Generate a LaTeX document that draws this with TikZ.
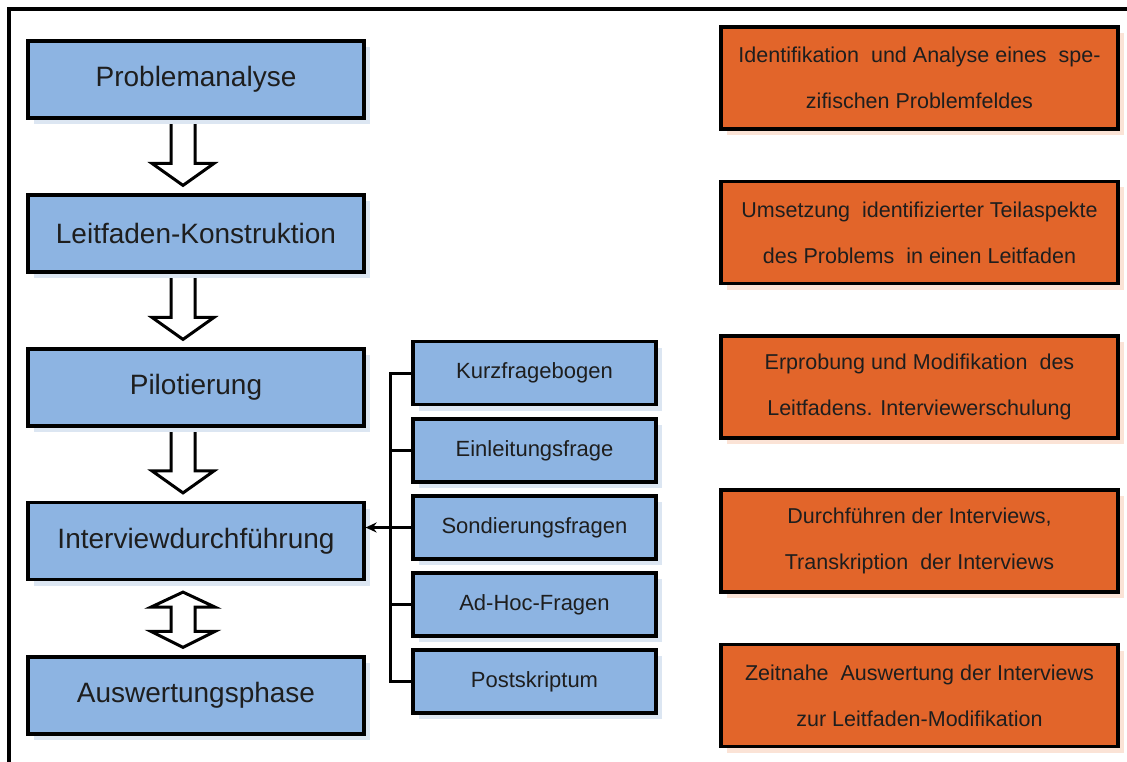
\documentclass[tikz,border=0pt]{standalone}
\usepackage{fontspec}
\setmainfont{Liberation Sans}
\usetikzlibrary{calc,shadows,backgrounds,arrows.meta}

\definecolor{boxblue}{HTML}{8DB4E2}
\definecolor{shadeblue}{HTML}{DCE6F2}
\definecolor{boxorange}{HTML}{E2652A}
\definecolor{shadeorange}{HTML}{FBE3D6}
\definecolor{ink}{HTML}{1E1E1E}

\tikzset{
  phase/.style={draw=black, line width=3.2pt, fill=boxblue, inner sep=0pt,
    minimum width=336pt, minimum height=77pt, text=ink,
    font=\fontsize{28}{32}\selectfont,
    drop shadow={shadow xshift=6pt, shadow yshift=-6pt, fill=shadeblue, opacity=1}},
  part/.style={draw=black, line width=3.2pt, fill=boxblue, inner sep=0pt,
    minimum width=243pt, minimum height=63pt, text=ink,
    font=\fontsize{22}{26}\selectfont,
    drop shadow={shadow xshift=6pt, shadow yshift=-6pt, fill=shadeblue, opacity=1}},
  note/.style={draw=black, line width=3.2pt, fill=boxorange, inner sep=0pt,
    minimum width=397pt, minimum height=102pt, text=ink, align=center,
    font=\fontsize{21.5}{46}\selectfont,
    drop shadow={shadow xshift=6pt, shadow yshift=-6pt, fill=shadeorange, opacity=1}},
  blockarrow/.style={draw=black, fill=white, line width=3pt, line join=miter},
  frameline/.style={draw=black, line width=3.2pt},
  bracket/.style={draw=black, line width=3pt}
}

% hollow block arrow from the bottom of #1 down to the top of #2
\newcommand\downblock[2]{%
  \path[blockarrow] ($(#1.south)+(-25,0)$) -- ($(#2.north)+(-25,-30)$)
    -- ($(#2.north)+(-44,-30)$) -- ($(#2.north)+(-13,-8)$)
    -- ($(#2.north)+(18,-30)$) -- ($(#2.north)+(-1,-30)$)
    -- ($(#1.south)+(-1,0)$);}

\begin{document}
\begin{tikzpicture}[x=1pt, y=-1pt]
  \useasboundingbox (0,0) rectangle (1127,762);

  % outer frame (top and left edges)
  \path[frameline] (1127,9) -- (9,9) -- (9,762);

  % phases of the interview process
  \node[phase] (pa) at (196,79.5)  {Problemanalyse};
  \node[phase] (lk) at (196,233.5) {Leitfaden-Konstruktion};
  \node[phase] (pi) at (196,387.5) {Pilotierung};
  \node[phase] (id) at (196,541)   {Interviewdurchführung};
  \node[phase] (aw) at (196,695.5) {Auswertungsphase};

  % parts of the interview guide
  \node[part] (kf) at (534.5,373)   {\raisebox{5pt}{Kurzfragebogen}};
  \node[part] (ef) at (534.5,450.5) {\raisebox{4pt}{Einleitungsfrage}};
  \node[part] (sf) at (534.5,527.5) {\raisebox{4pt}{Sondierungsfragen}};
  \node[part] (ah) at (534.5,604.5) {\raisebox{4pt}{Ad-Hoc-Fragen}};
  \node[part] (ps) at (534.5,681.5) {\raisebox{4pt}{Postskriptum}};

  % descriptions
  \node[note] (n1) at (919.5,78)    {Identifikation \ und Analyse eines \ spe-\\zifischen Problemfeldes};
  \node[note] (n2) at (919.5,232.5) {Umsetzung \ identifizierter Teilaspekte\\des Problems \ in einen Leitfaden};
  \node[note] (n3) at (919.5,387)   {Erprobung und Modifikation \ des\\Leitfadens. Interviewerschulung};
  \node[note] (n4) at (919.5,541)   {Durchführen der Interviews,\\Transkription \ der Interviews};
  \node[note] (n5) at (919.5,695.5) {Zeitnahe \ Auswertung der Interviews\\zur Leitfaden-Modifikation};

  \begin{pgfonlayer}{background}
    \downblock{pa}{lk}
    \downblock{lk}{pi}
    \downblock{pi}{id}
    % two-way block arrow between execution and evaluation
    \path[blockarrow] ($(id.south)+(-13,11)$) -- ($(id.south)+(19,26)$)
      -- ($(id.south)+(-1,26)$) -- ($(aw.north)+(-1,-24)$)
      -- ($(aw.north)+(19,-24)$) -- ($(aw.north)+(-13,-8)$)
      -- ($(aw.north)+(-45,-24)$) -- ($(aw.north)+(-25,-24)$)
      -- ($(id.south)+(-25,26)$) -- ($(id.south)+(-45,26)$) -- cycle;
  \end{pgfonlayer}

  % bracket collecting the guide parts
  \coordinate (bus) at (390,0);
  \path[bracket] (kf.west) -- (kf.west -| bus) -- (ps.west -| bus) -- (ps.west);
  \path[bracket] (ef.west) -- (ef.west -| bus);
  \path[bracket] (ah.west) -- (ah.west -| bus);
  \path[bracket] (sf.west) -- (sf.west -| bus);
  \path[bracket, -{Stealth[length=11pt, width=10pt]}] (sf.west -| bus) -- (sf.west -| id.east);
\end{tikzpicture}
\end{document}
